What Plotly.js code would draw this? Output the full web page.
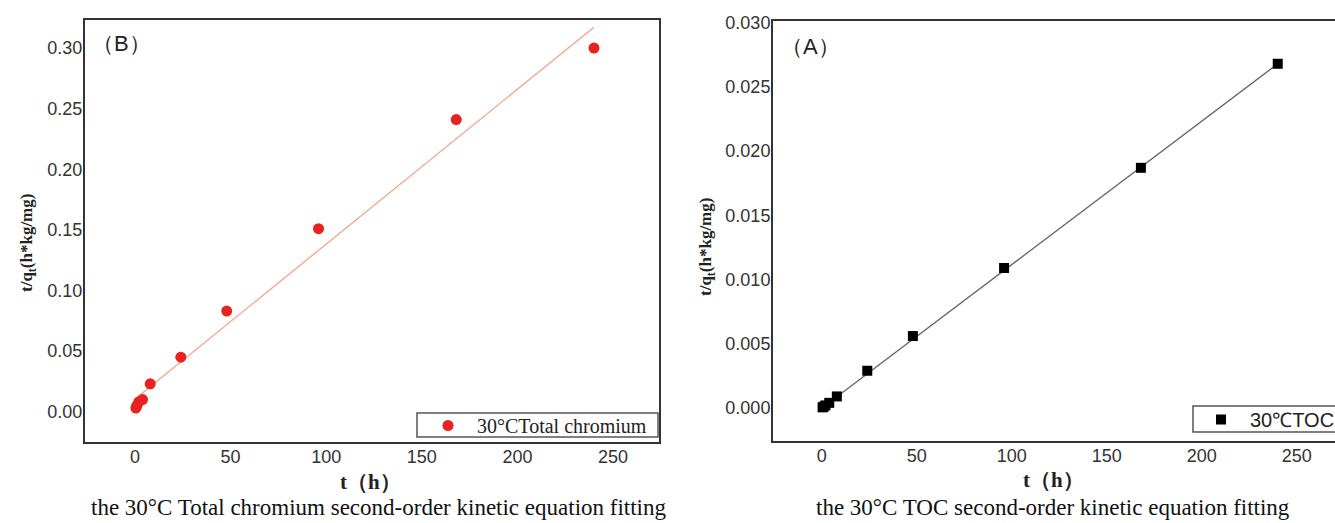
<!DOCTYPE html>
<html>
<head>
<meta charset="utf-8">
<script src="https://cdn.plot.ly/plotly-3.0.1.min.js"></script>
<style>
html, body { margin: 0; padding: 0; overflow: hidden; background: #fff; width: 1335px; height: 523px; }
#chart { width: 1350px; height: 523px; }
</style>
</head>
<body>
<div id="chart"></div>
<script>
// ---- data ----
const timeH = [0.5, 1, 2, 4, 8, 24, 48, 96, 168, 240];
const crValues = [0.003, 0.005, 0.008, 0.010, 0.023, 0.045, 0.083, 0.151, 0.241, 0.300];
const tocValues = [0.00005, 0.0001, 0.0002, 0.0004, 0.0009, 0.0029, 0.0056, 0.0109, 0.0187, 0.0268];
const crFitT = [0.5, 240];
const crFitY = [0.0111, 0.3172];
const tocFitT = [0.5, 240];
const tocFitY = [0.00004, 0.0268];
const xTicks = [0, 50, 100, 150, 200, 250];
const crTicks = [0.00, 0.05, 0.10, 0.15, 0.20, 0.25, 0.30];
const tocTicks = [0.000, 0.005, 0.010, 0.015, 0.020, 0.025, 0.030];
const crName = '30°CTotal chromium';
const tocName = '30℃TOC';
const titleB = '（B）';
const titleA = '（A）';
const yTitle = 't/q<sub>t</sub>(h*kg/mg)';
const xTitle = 't（h）';
const captionB = 'the 30°C Total chromium second-order kinetic equation fitting';
const captionA = 'the 30°C TOC second-order kinetic equation fitting';

// ---- layout helpers (pixel positions) ----
const W = 1350, H = 523;
const px = v => v / W;
const py = v => 1 - v / H;

const sans = 'Liberation Sans, Arial, sans-serif';
const serif = 'Liberation Serif, Times New Roman, serif';

const traces = [
  { x: crFitT, y: crFitY, mode: 'lines', xaxis: 'x', yaxis: 'y',
    line: { color: '#f4a48c', width: 1.3 }, showlegend: false, hoverinfo: 'skip' },
  { x: timeH, y: crValues, mode: 'markers', name: crName, xaxis: 'x', yaxis: 'y',
    marker: { symbol: 'circle', size: 11, color: '#e8231f' }, legend: 'legend' },
  { x: tocFitT, y: tocFitY, mode: 'lines', xaxis: 'x2', yaxis: 'y2',
    line: { color: '#666666', width: 1.3 }, showlegend: false, hoverinfo: 'skip' },
  { x: timeH, y: tocValues, mode: 'markers', name: tocName, xaxis: 'x2', yaxis: 'y2',
    marker: { symbol: 'square', size: 10, color: '#000000' }, legend: 'legend2' }
];

const axisCommon = {
  showgrid: false, zeroline: false, showline: true, linecolor: '#333333', linewidth: 2,
  mirror: true, ticks: '', ticklabelstandoff: -3,
  tickfont: { family: sans, size: 18, color: '#333333' }
};

const boxLine = { color: '#555555', width: 1.5 };

const layout = {
  width: W, height: H, autosize: false,
  margin: { l: 0, r: 0, t: 0, b: 0, pad: 0 },
  paper_bgcolor: '#ffffff', plot_bgcolor: '#ffffff',
  xaxis: Object.assign({}, axisCommon, {
    domain: [px(85), px(659)], range: [-26.1, 274], tickvals: xTicks, anchor: 'y'
  }),
  yaxis: Object.assign({}, axisCommon, {
    domain: [py(442), py(20)], range: [-0.025, 0.3232], tickvals: crTicks,
    tickformat: '.2f', anchor: 'x'
  }),
  xaxis2: Object.assign({}, axisCommon, {
    domain: [px(773), px(1345)], range: [-25.6, 275.4], tickvals: xTicks, anchor: 'y2'
  }),
  yaxis2: Object.assign({}, axisCommon, {
    domain: [py(441), py(21)], range: [-0.00257, 0.03013], tickvals: tocTicks,
    tickformat: '.3f', anchor: 'x2'
  }),
  shapes: [
    { type: 'rect', xref: 'paper', yref: 'paper', x0: px(417), x1: px(658), y0: py(437), y1: py(413),
      line: boxLine, fillcolor: '#ffffff', layer: 'above' },
    { type: 'rect', xref: 'paper', yref: 'paper', x0: px(1193), x1: px(1345), y0: py(432), y1: py(406),
      line: boxLine, fillcolor: '#ffffff', layer: 'above' }
  ],
  legend: {
    x: px(419), xanchor: 'left', y: py(425.5), yanchor: 'middle',
    bgcolor: 'rgba(0,0,0,0)', borderwidth: 0, itemwidth: 48,
    font: { family: serif, size: 20, color: '#222222' }
  },
  legend2: {
    x: px(1192), xanchor: 'left', y: py(419.5), yanchor: 'middle',
    bgcolor: 'rgba(0,0,0,0)', borderwidth: 0, itemwidth: 48,
    font: { family: sans, size: 20, color: '#222222' }
  },
  annotations: [
    { text: titleB, x: px(122), y: py(43), xref: 'paper', yref: 'paper', showarrow: false,
      xanchor: 'center', yanchor: 'middle', font: { family: sans, size: 22, color: '#222222' } },
    { text: titleA, x: px(810), y: py(46), xref: 'paper', yref: 'paper', showarrow: false,
      xanchor: 'center', yanchor: 'middle', font: { family: sans, size: 22, color: '#222222' } },
    { text: '<b>' + yTitle + '</b>', x: px(28), y: py(243), xref: 'paper', yref: 'paper', showarrow: false,
      textangle: -90, xanchor: 'center', yanchor: 'middle', font: { family: serif, size: 17, color: '#222222' } },
    { text: '<b>' + yTitle + '</b>', x: px(707), y: py(247), xref: 'paper', yref: 'paper', showarrow: false,
      textangle: -90, xanchor: 'center', yanchor: 'middle', font: { family: serif, size: 17, color: '#222222' } },
    { text: '<b>' + xTitle + '</b>', x: px(370), y: py(482), xref: 'paper', yref: 'paper', showarrow: false,
      xanchor: 'center', yanchor: 'middle', font: { family: serif, size: 21, color: '#222222' } },
    { text: '<b>' + xTitle + '</b>', x: px(1053), y: py(480), xref: 'paper', yref: 'paper', showarrow: false,
      xanchor: 'center', yanchor: 'middle', font: { family: serif, size: 21, color: '#222222' } },
    { text: captionB, x: px(379), y: py(507), xref: 'paper', yref: 'paper', showarrow: false,
      xanchor: 'center', yanchor: 'middle', font: { family: serif, size: 23, color: '#111111' } },
    { text: captionA, x: px(1053), y: py(507), xref: 'paper', yref: 'paper', showarrow: false,
      xanchor: 'center', yanchor: 'middle', font: { family: serif, size: 23, color: '#111111' } }
  ]
};

Plotly.newPlot('chart', traces, layout, { displayModeBar: false, staticPlot: true });
</script>
</body>
</html>
